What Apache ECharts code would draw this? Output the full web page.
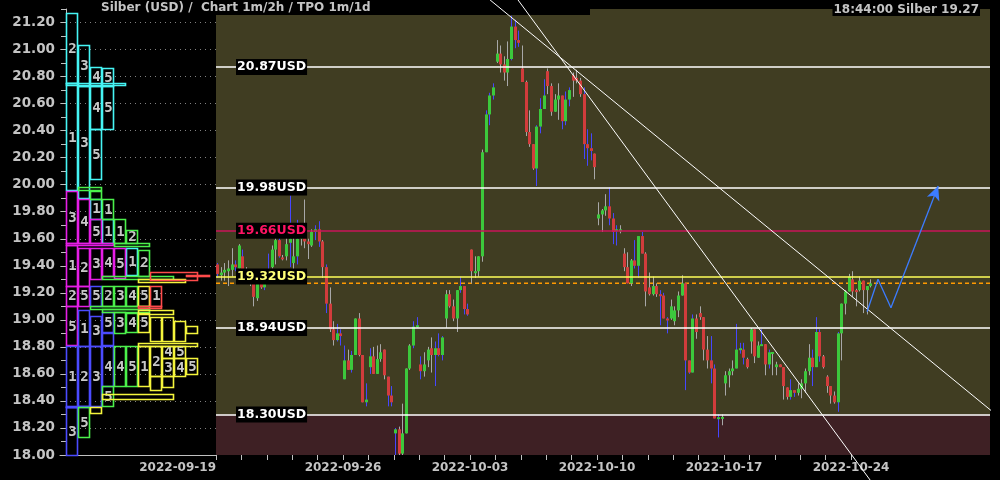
<!DOCTYPE html>
<html><head><meta charset="utf-8">
<script src="https://cdn.jsdelivr.net/npm/echarts@6/dist/echarts.min.js"></script>
<style>html,body{margin:0;padding:0;background:#000;}#c{width:1000px;height:480px;}</style>
</head><body><div id="c"></div>
<script>
// ---------- data ----------
const dateLabels = ['2022-09-19','2022-09-26','2022-10-03','2022-10-10','2022-10-17','2022-10-24'];
const labelDays = [0,5,10,15,20,25];
const tickDays = [0,1,2,3,4,5,6,7,8,9,10,11,12,13,14,15,16,17,18,19,20,21,22,23,24,25];
const barsPerDay = 7;
// 2h candles [open, close, low, high]
const ohlc = [
[19.41,19.34,19.31,19.42],[19.33,19.35,19.29,19.39],[19.35,19.37,19.29,19.42],[19.36,19.38,19.25,19.44],[19.37,19.41,19.32,19.53],
[19.41,19.39,19.36,19.44],[19.38,19.55,19.38,19.56],[19.47,19.37,19.37,19.52],[19.33,19.34,19.29,19.39],[19.30,19.29,19.25,19.31],
[19.27,19.17,19.10,19.28],[19.16,19.27,19.14,19.27],[19.27,19.24,19.23,19.28],[19.24,19.27,19.22,19.28],[19.33,19.35,19.32,19.49],
[19.39,19.52,19.38,19.55],[19.52,19.59,19.41,19.63],[19.59,19.47,19.46,19.63],[19.462,19.458,19.44,19.48],[19.47,19.56,19.44,19.68],
[19.57,19.60,19.39,19.92],[19.42,19.47,19.37,19.71],[19.47,19.60,19.41,19.74],[19.60,19.62,19.55,19.64],[19.65,19.58,19.53,19.89],
[19.58,19.56,19.45,19.60],[19.55,19.65,19.54,19.67],[19.65,19.67,19.59,19.70],[19.67,19.58,19.54,19.73],[19.58,19.39,19.31,19.59],
[19.39,19.12,19.05,19.41],[19.12,18.93,18.91,19.24],[18.93,18.85,18.81,18.99],[18.85,18.90,18.84,18.97],[18.90,18.88,18.81,18.93],
[18.56,18.70,18.56,18.81],[18.70,18.63,18.63,18.78],[18.63,18.74,18.61,18.77],[18.74,19.01,18.74,19.01],[19.01,18.74,18.73,19.05],
[18.74,18.39,18.39,18.74],[18.39,18.41,18.36,18.53],[18.65,18.73,18.60,18.79],[18.73,18.60,18.60,18.80],[18.60,18.71,18.60,18.81],
[18.71,18.76,18.69,18.82],[18.78,18.59,18.56,18.78],[18.58,18.44,18.36,18.58],[18.44,18.39,18.36,18.51],[18.16,18.19,18.00,18.20],
[18.19,18.01,18.00,18.21],[18.01,18.16,18.00,18.38],[18.16,18.64,18.16,18.64],[18.64,18.81,18.63,18.82],[18.81,18.95,18.79,18.99],
[18.95,18.96,18.94,19.02],[18.67,18.62,18.56,18.73],[18.62,18.67,18.58,18.76],[18.70,18.78,18.65,18.80],[18.79,18.74,18.61,18.87],
[18.74,18.79,18.51,18.84],[18.79,18.74,18.73,18.90],[18.74,18.87,18.70,18.88],[19.01,19.19,18.94,19.22],[19.19,19.10,19.09,19.22],
[19.10,19.01,18.99,19.15],[19.01,19.22,18.91,19.22],[19.22,19.25,19.20,19.32],[19.25,19.08,19.04,19.25],[19.08,19.04,19.03,19.12],
[19.52,19.36,19.27,19.52],[19.35,19.36,19.31,19.47],[19.36,19.47,19.32,19.47],[19.47,20.24,19.43,20.26],[20.24,20.52,20.24,20.55],
[20.52,20.66,20.44,20.68],[20.66,20.72,20.63,20.75],[20.91,20.97,20.90,21.07],[20.97,20.89,20.83,21.03],[20.89,20.83,20.77,20.95],
[20.83,20.93,20.73,21.06],[20.93,21.17,20.92,21.25],[21.17,21.07,21.01,21.22],[21.07,21.05,21.02,21.14],[20.86,20.76,20.76,21.03],
[20.76,20.39,20.36,20.77],[20.39,20.30,20.28,20.55],[20.30,20.12,20.11,20.30],[20.12,20.43,19.99,20.44],[20.43,20.56,20.38,20.64],
[20.56,20.66,20.56,20.78],[20.84,20.73,20.67,20.86],[20.73,20.54,20.51,20.75],[20.54,20.63,20.54,20.67],[20.63,20.66,20.48,20.75],
[20.66,20.47,20.41,20.66],[20.47,20.63,20.44,20.69],[20.63,20.70,20.58,20.72],[20.81,20.77,20.65,20.83],[20.79,20.77,20.75,20.85],
[20.77,20.67,20.65,20.79],[20.67,20.30,20.19,20.72],[20.30,20.27,20.14,20.41],[20.27,20.25,20.18,20.38],[20.23,20.13,20.04,20.23],
[19.75,19.78,19.70,19.87],[19.78,19.81,19.65,19.82],[19.81,19.84,19.77,19.93],[19.84,19.75,19.70,19.98],[19.75,19.65,19.56,19.79],
[19.66,19.67,19.55,19.70],[19.66,19.67,19.64,19.70],[19.49,19.39,19.36,19.53],[19.39,19.27,19.27,19.50],[19.27,19.44,19.25,19.45],
[19.44,19.40,19.38,19.59],[19.40,19.62,19.31,19.62],[19.62,19.49,19.49,19.65],[19.49,19.21,19.10,19.50],[19.24,19.19,19.18,19.35],
[19.19,19.25,19.18,19.32],[19.25,19.19,19.17,19.27],[19.19,19.18,18.96,19.22],[19.18,19.01,19.01,19.20],[19.01,19.00,18.90,19.02],
[19.01,19.10,19.00,19.15],[18.99,19.07,18.96,19.10],[19.07,19.18,19.02,19.21],[19.18,19.27,19.18,19.33],[19.27,18.70,18.48,19.27],
[18.70,18.61,18.60,18.70],[18.61,19.01,18.61,19.04],[19.01,18.91,18.86,19.04],[19.05,19.02,19.00,19.10],[19.02,18.78,18.70,19.02],
[18.78,18.70,18.64,18.88],[18.70,18.64,18.53,18.88],[18.64,18.27,18.27,18.67],[18.27,18.28,18.13,18.30],[18.278,18.282,18.22,18.30],
[18.53,18.59,18.44,18.62],[18.59,18.62,18.50,18.64],[18.62,18.64,18.59,18.70],[18.64,18.78,18.64,18.97],[18.78,18.79,18.75,18.83],
[18.78,18.72,18.67,18.83],[18.71,18.65,18.64,18.72],[18.84,18.93,18.75,18.94],[18.93,18.73,18.68,18.93],[18.72,18.81,18.72,18.84],
[18.81,18.82,18.81,18.93],[18.82,18.67,18.59,18.82],[18.67,18.76,18.64,18.78],[18.757,18.762,18.59,18.76],[18.65,18.67,18.59,18.69],
[18.67,18.65,18.65,18.67],[18.65,18.51,18.41,18.65],[18.50,18.43,18.41,18.50],[18.43,18.48,18.41,18.56],[18.48,18.46,18.43,18.48],
[18.46,18.49,18.44,18.53],[18.49,18.53,18.42,18.56],[18.53,18.62,18.46,18.64],[18.62,18.72,18.59,18.82],[18.72,18.65,18.51,18.78],
[18.65,18.91,18.65,19.02],[18.91,18.73,18.69,18.93],[18.73,18.65,18.64,18.74],[18.58,18.51,18.46,18.59],[18.51,18.44,18.38,18.51],
[18.44,18.39,18.38,18.47],[18.39,18.90,18.32,18.91],[18.90,19.12,18.70,19.12],[19.12,19.21,19.04,19.22],[19.21,19.32,19.21,19.34],
[19.30,19.21,19.17,19.36],[19.22,19.21,19.10,19.23],[19.22,19.29,19.21,19.32],[19.29,19.22,19.05,19.29],[19.22,19.25,19.04,19.25],
[19.25,19.27,19.24,19.30]
];
// wick colour per candle: b = blue, g = grey
const wickColors = 'bggggbgbgggggbbggbggbgbggggbbgbggbbbgbgggbbggggbbbggggbbbgggbbbggggbbbggggbbbggggbbbggggbbbggggbbbgggbbbggggbbbggggbbbggggbbbggggbbbggggbbbggggbbbggggbgbgggggbbggggbbbggggb';
// horizontal levels
const levels = [20.87, 19.98, 19.66, 19.32, 18.94, 18.30];
const levelColors = ['#ffffff','#ffffff','#c8145a','#ffff5a','#ffffff','#ffffff'];
const levelTextColors = ['#ffffff','#ffffff','#ff1464','#ffff78','#ffffff','#ffffff'];
const lastPrice = 19.27;
const supportBand = [18.00, 18.30];
// trend lines [day, price]
const trendA = [[11.89, 21.367], [25.75, 17.815]];
const trendB = [[10.79, 21.367], [30.87, 18.274]];
// projected path [day, price]
const forecast = [[25.63, 19.06], [26.06, 19.30], [26.57, 19.09], [28.43, 19.99]];
// TPO profile boxes: [firstCol, lastCol, low, high, week, letter]
const tpoBoxes = [
[0,0,20.75,21.27,'C','2'],[0,0,19.955,20.75,'C','1'],[1,1,20.73,21.03,'C','3'],[1,1,19.90,20.73,'C','3'],
[2,2,20.73,20.87,'C','4'],[2,2,20.41,20.73,'C','4'],[2,2,20.04,20.41,'C','5'],[3,3,20.73,20.86,'C','5'],
[3,3,20.41,20.73,'C','5'],[0,4,20.735,20.752,'C',''],[2,2,19.75,19.895,'C','1'],[3,3,19.566,19.746,'C','1'],
[5,5,19.33,19.53,'C','1'],
[0,0,19.566,19.953,'M','3'],[0,0,19.25,19.554,'M','1'],[0,0,19.105,19.25,'M','2'],[0,0,18.81,19.10,'M','5'],
[1,1,19.566,19.894,'M','4'],[1,1,19.25,19.53,'M','2'],[1,1,19.105,19.25,'M','5'],[2,2,19.566,19.746,'M','5'],
[2,2,19.30,19.53,'M','3'],[3,3,19.32,19.53,'M','4'],[4,4,19.31,19.53,'M','5'],[0,3,19.554,19.566,'M',''],
[0,0,18.357,18.807,'B','1'],[0,0,18.00,18.357,'B','3'],[1,1,18.807,19.07,'B','1'],[1,1,18.36,18.807,'B','2'],
[2,2,19.105,19.25,'B','5'],[2,2,18.81,19.03,'B','3'],[2,2,18.36,18.807,'B','3'],[3,3,18.908,19.06,'B','5'],
[3,3,18.51,18.807,'B','4'],[0,1,18.35,18.36,'B',''],[3,3,18.81,18.908,'B',''],
[1,2,19.955,19.98,'G',''],[2,2,19.895,19.955,'G',''],[3,3,19.746,19.894,'G','1'],[4,4,19.566,19.746,'G','1'],
[5,5,19.566,19.665,'G','2'],[4,6,19.545,19.566,'G',''],[6,6,19.33,19.52,'G','2'],[3,3,19.105,19.25,'G','2'],
[4,4,19.105,19.25,'G','3'],[5,5,19.105,19.25,'G','4'],[4,4,18.908,19.06,'G','3'],[5,5,18.908,19.05,'G','4'],
[4,4,18.51,18.807,'G','4'],[5,5,18.51,18.807,'G','5'],[3,3,18.36,18.51,'G','5'],[1,1,18.131,18.353,'G','5'],
[3,8,19.30,19.325,'G',''],[2,6,19.08,19.10,'G',''],[3,6,19.06,19.08,'G',''],
[6,6,19.105,19.25,'Y','5'],[6,6,18.908,19.05,'Y','5'],[6,6,18.51,18.807,'Y','1'],[7,7,18.585,18.807,'Y','2'],
[8,8,18.72,18.807,'Y','4'],[9,9,18.72,18.807,'Y','5'],[8,8,18.585,18.715,'Y','3'],[9,9,18.585,18.715,'Y','4'],
[10,10,18.60,18.715,'Y','5'],[7,7,18.84,19.02,'Y',''],[8,8,18.84,19.02,'Y',''],[9,9,18.84,18.99,'Y',''],
[10,10,18.90,18.955,'Y',''],[6,10,18.81,18.83,'Y',''],[7,7,18.48,18.585,'Y',''],[8,8,18.50,18.585,'Y',''],
[3,8,18.41,18.45,'Y',''],[2,2,18.316,18.357,'Y',''],[6,9,19.28,19.30,'Y',''],[6,8,19.04,19.07,'Y',''],
[7,7,19.105,19.25,'R','1'],[7,10,19.30,19.356,'R',''],[10,11,19.33,19.335,'R',''],[6,7,19.09,19.105,'R','']
];
const weekColors = {C:'#46f5f5', M:'#e61ee6', B:'#4b4bff', G:'#4bf04b', Y:'#f5f53c', R:'#ff4b4b'};

// ---------- chart ----------
const chart = echarts.init(document.getElementById('c'), null, {renderer:'canvas'});
const FONT = 'DejaVu Sans';
const GREY = '#c4c4c4';
const candleData = ohlc.map((r, i) => [(i + 0.3) / barsPerDay, r[0], r[1], r[2], r[3], wickColors[i] === 'b' ? 1 : 0]);
const yMin = 18, yMax = 21.3;

const option = {
  backgroundColor: '#000',
  animation: false,
  title: [
    {text: 'Silber (USD) /  Chart 1m/2h / TPO 1m/1d', left: 101, top: 2, padding: 0,
     textStyle: {color: GREY, fontSize: 12, fontWeight: 'bold', fontFamily: FONT}},
    {text: '18:44:00 Silber 19.27', right: 20, top: 3, padding: [1, 1, 0, 1], backgroundColor: '#000',
     textStyle: {color: GREY, fontSize: 12, fontWeight: 'bold', fontFamily: FONT}}
  ],
  graphic: [{type: 'rect', shape: {x: 216, y: 0, width: 374, height: 15}, style: {fill: '#000'}, z: 1}],
  grid: [
    {left: 60, right: 784, top: 9, bottom: 25},
    {left: 216, right: 10, top: 9, bottom: 25, show: true, backgroundColor: '#403d22', borderWidth: 0}
  ],
  xAxis: [
    {gridIndex: 0, type: 'value', min: -0.5, max: 12.5, axisLine: {show: true, onZero: false, lineStyle: {color: '#c0c0c0'}},
     axisTick: {show: false}, axisLabel: {show: false}, splitLine: {show: false}},
    {gridIndex: 1, type: 'value', min: 0, max: 30.47, axisLine: {show: false, onZero: false},
     axisTick: {show: true, customValues: tickDays, length: 5, lineStyle: {color: '#c0c0c0'}},
     axisLabel: {customValues: labelDays, alignMinLabel: 'right', color: GREY, fontWeight: 'bold', fontSize: 12, fontFamily: FONT, margin: 7,
       formatter: v => dateLabels[labelDays.indexOf(Math.round(v))] || ''},
     splitLine: {show: false}}
  ],
  yAxis: [
    {gridIndex: 0, type: 'value', min: yMin, max: yMax, interval: 0.2,
     axisLine: {show: true, lineStyle: {color: '#c0c0c0'}},
     axisTick: {show: true, length: 5, lineStyle: {color: '#c0c0c0'}},
     minorTick: {show: true, splitNumber: 2, length: 5, lineStyle: {color: '#c0c0c0'}},
     axisLabel: {formatter: v => v.toFixed(2), showMaxLabel: false, color: GREY, fontWeight: 'bold', fontSize: 13.5, fontFamily: FONT, margin: 5},
     splitLine: {show: true, showMaxLine: false, lineStyle: {color: '#808080', type: [1, 4]}}},
    {gridIndex: 1, type: 'value', min: yMin, max: yMax, show: false, splitLine: {show: false}}
  ],
  series: [
    {
      type: 'custom', name: 'tpo', xAxisIndex: 0, yAxisIndex: 0, z: 3,
      data: tpoBoxes.map(b => [b[0], b[1], b[2], b[3]]),
      encode: {x: [0, 1], y: [2, 3]},
      renderItem: (params, api) => {
        const b = tpoBoxes[params.dataIndex];
        const p0 = api.coord([b[0], b[3]]);
        const p1 = api.coord([b[1] + 0.93, b[2]]);
        const h = Math.max(p1[1] - p0[1], 1);
        const children = [{type: 'rect', shape: {x: Math.round(p0[0]) + 0.5, y: Math.round(p0[1]) + 0.5, width: Math.round(p1[0] - p0[0]), height: Math.round(h)},
          style: {fill: 'none', stroke: weekColors[b[4]], lineWidth: 1.6}}];
        if (b[5]) children.push({type: 'text', style: {text: b[5], x: (p0[0] + p1[0]) / 2 + 1, y: p0[1] + h / 2 + 1, align: 'center', verticalAlign: 'middle',
          fill: '#c8c8c8', font: 'bold 14px "DejaVu Sans Mono"'}});
        return {type: 'group', children};
      }
    },
    {
      type: 'line', name: 'levels', xAxisIndex: 1, yAxisIndex: 1, data: [], z: 2, silent: true,
      markArea: {silent: true, itemStyle: {color: '#3e2024'}, data: [[{yAxis: supportBand[0]}, {yAxis: supportBand[1]}]]},
      markLine: {silent: true, symbol: 'none', animation: false,
        data: levels.map((v, i) => ({yAxis: v, lineStyle: {color: levelColors[i], width: 1.5, type: 'solid'},
          label: {show: true, position: 'insideStartTop', distance: [20, 0], verticalAlign: 'middle', formatter: v.toFixed(2) + 'USD',
            color: levelTextColors[i], backgroundColor: '#000', padding: [2, 1, 1, 1], fontWeight: 'bold', fontSize: 12.5, fontFamily: FONT}}))}
    },
    {
      type: 'line', name: 'last', xAxisIndex: 1, yAxisIndex: 1, clip: false, symbol: 'none', z: 3, silent: true,
      data: [[0, lastPrice], [30.87, lastPrice]],
      lineStyle: {color: '#ff9a00', width: 1.5, type: [4, 3]}
    },
    {
      type: 'custom', name: 'candles', xAxisIndex: 1, yAxisIndex: 1, z: 4,
      data: candleData,
      encode: {x: 0, y: [1, 2, 3, 4]},
      renderItem: (params, api) => {
        const t = api.value(0);
        const o = api.coord([t, api.value(1)]), c = api.coord([t, api.value(2)]);
        const l = api.coord([t, api.value(3)]), h = api.coord([t, api.value(4)]);
        const x = Math.round(o[0]);
        const up = api.value(2) >= api.value(1);
        const top = Math.min(o[1], c[1]);
        const bh = Math.max(Math.abs(o[1] - c[1]), 2);
        return {type: 'group', children: [
          {type: 'line', shape: {x1: x + 0.5, y1: h[1], x2: x + 0.5, y2: l[1]},
           style: {stroke: api.value(5) ? '#4646ff' : '#a8a8a8', lineWidth: 1}},
          {type: 'rect', shape: {x: x - 1, y: top, width: 3, height: bh},
           style: {fill: up ? '#3cc83c' : '#d23c3c'}}
        ]};
      }
    },
    {type: 'line', name: 'trendA', xAxisIndex: 1, yAxisIndex: 1, clip: false, symbol: 'none', z: 5, silent: true,
     data: trendA, lineStyle: {color: '#ffffff', width: 1}},
    {type: 'line', name: 'trendB', xAxisIndex: 1, yAxisIndex: 1, clip: false, symbol: 'none', z: 5, silent: true,
     data: trendB, lineStyle: {color: '#ffffff', width: 1}},
    {type: 'line', name: 'forecast', xAxisIndex: 1, yAxisIndex: 1, clip: false, symbol: 'none', z: 5, silent: true,
     data: forecast.slice(0, 3), lineStyle: {color: '#3c7cff', width: 1.3},
     markLine: {silent: true, symbol: ['none', 'arrow'], symbolSize: [10, 14], lineStyle: {color: '#3c7cff', width: 1.3, type: 'solid'},
       label: {show: false}, data: [[{coord: forecast[2]}, {coord: forecast[3]}]]}}
  ]
};
chart.setOption(option);
</script></body></html>
